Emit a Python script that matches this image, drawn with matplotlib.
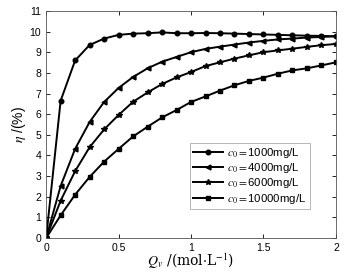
import numpy as np
import matplotlib
matplotlib.use("Agg")
import matplotlib.pyplot as plt

plt.rcParams["font.family"] = ["Liberation Sans", "DejaVu Sans"]
plt.rcParams["mathtext.fontset"] = "stix"

qv = [0, 0.1, 0.2, 0.3, 0.4, 0.5, 0.6, 0.7, 0.8, 0.9, 1.0,
      1.1, 1.2, 1.3, 1.4, 1.5, 1.6, 1.7, 1.8, 1.9, 2.0]

eta_1000 = [0, 6.65, 8.6, 9.35, 9.66, 9.84, 9.9, 9.92, 9.96, 9.92, 9.92,
            9.93, 9.92, 9.9, 9.88, 9.86, 9.84, 9.82, 9.8, 9.79, 9.77]
eta_4000 = [0, 2.52, 4.32, 5.62, 6.59, 7.27, 7.8, 8.22, 8.54, 8.77, 9.0,
            9.16, 9.27, 9.37, 9.47, 9.55, 9.62, 9.66, 9.71, 9.74, 9.77]
eta_6000 = [0, 1.81, 3.24, 4.4, 5.26, 5.96, 6.6, 7.05, 7.46, 7.78, 8.04,
            8.33, 8.51, 8.69, 8.85, 9.0, 9.09, 9.17, 9.26, 9.34, 9.4]
eta_10000 = [0, 1.1, 2.1, 2.96, 3.7, 4.32, 4.92, 5.39, 5.84, 6.2, 6.59,
             6.86, 7.14, 7.4, 7.61, 7.77, 7.96, 8.12, 8.22, 8.36, 8.51]

labels = ["1000mg/L", "4000mg/L", "6000mg/L", "10000mg/L"]
series = [eta_1000, eta_4000, eta_6000, eta_10000]
markers = ["o", "<", "*", "s"]
msizes = [3.3, 3.5, 4, 3.3]

fig = plt.figure(figsize=(3.47, 2.73), dpi=100)
ax = fig.add_axes([0.133, 0.128, 0.835, 0.832])

for y, lab, m, ms in zip(series, labels, markers, msizes):
    ax.plot(qv, y, color="black", lw=1.4, marker=m, ms=ms,
            mfc="black", mec="black", label=r"$c_0=$" + lab)

ax.set_xlim(0, 2)
ax.set_ylim(0, 11)
ax.set_xticks([0, 0.5, 1, 1.5, 2])
ax.set_xticklabels(["0", "0.5", "1", "1.5", "2"])
ax.set_yticks(range(0, 12))
ax.tick_params(direction="in", top=True, right=True, labelsize=7.5, length=3, width=0.6)
for s in ax.spines.values():
    s.set_linewidth(0.6)
    s.set_color("#555555")

ax.set_xlabel(r"$Q_v$ /(mol$\cdot$L$^{-1}$)", fontsize=10, family="serif", labelpad=-1)
ax.set_ylabel(r"$\eta$ /(%)", fontsize=10, labelpad=1)

leg = ax.legend(loc="upper right", bbox_to_anchor=(0.93, 0.445), fontsize=8.2,
                frameon=True, fancybox=False, edgecolor="#999999",
                handlelength=2.6, labelspacing=0.1, borderpad=0.3, handletextpad=0.4)
leg.get_frame().set_linewidth(0.6)

fig.savefig("out.png", dpi=100)
